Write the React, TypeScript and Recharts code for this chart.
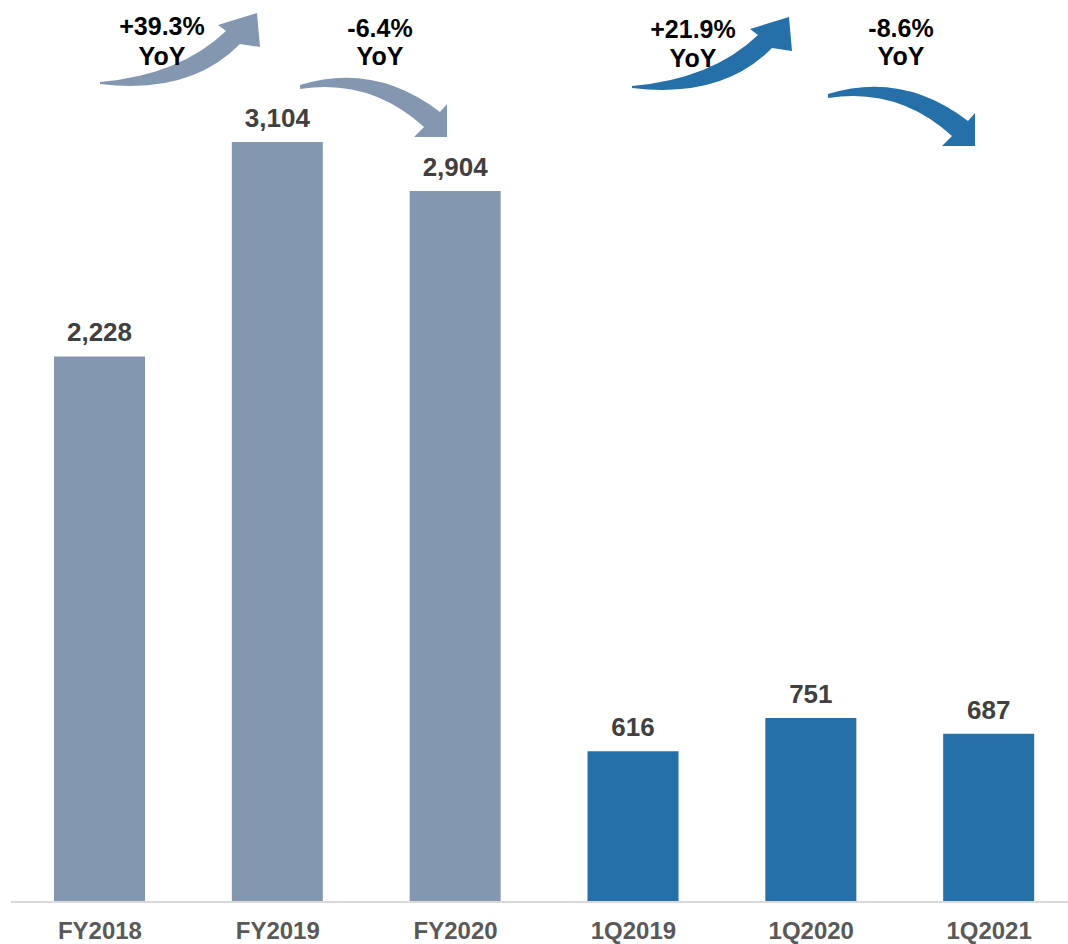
import React from 'react';
import { BarChart, Bar, XAxis, YAxis, Cell, LabelList } from 'recharts';

const categories = ['FY2018', 'FY2019', 'FY2020', '1Q2019', '1Q2020', '1Q2021'];
const revenue = [2228, 3104, 2904, 616, 751, 687];
const periodType = ['annual', 'annual', 'annual', 'quarter', 'quarter', 'quarter'];
const yoyChanges = ['+39.3%', '-6.4%', '+21.9%', '-8.6%'];

const data = categories.map((label, i) => ({ label, value: revenue[i], period: periodType[i] }));

const annualColor = '#8497B0';
const quarterColor = '#2570A9';
const font = '"Liberation Sans", Arial, sans-serif';

// curved arrows in PowerPoint style, drawn once and shifted into place
const upArrow =
  'M100,84 Q190,95 240,44 L260,47 L257,13 L218,25 L226,31 Q180,75 100,82 Z';
const downArrow =
  'M300,85 Q375,62 440,112 L447,104 L447,137 L414,137 L424,127 Q370,78 300,89 Z';

const callouts = [
  { text: yoyChanges[0], path: upArrow, dx: 0, dy: 0, color: annualColor, x: 162, y1: 35, y2: 65 },
  { text: yoyChanges[1], path: downArrow, dx: 0, dy: 0, color: annualColor, x: 380, y1: 37, y2: 65 },
  { text: yoyChanges[2], path: upArrow, dx: 532, dy: 4, color: quarterColor, x: 693, y1: 38, y2: 67 },
  { text: yoyChanges[3], path: downArrow, dx: 528, dy: 9, color: quarterColor, x: 901, y1: 37, y2: 65 },
];

const App: React.FC = () => {
  return (
    <div style={{ position: 'absolute', left: 0, top: 0, width: 1068, height: 944, overflow: 'hidden', background: '#fff' }}>
      <BarChart
        width={1080}
        height={944}
        data={data}
        margin={{ top: 45, right: 2, left: 11, bottom: 0 }}
      >
        <XAxis
          dataKey="label"
          height={42}
          axisLine={{ stroke: '#d9d9d9', strokeWidth: 2 }}
          tickLine={false}
          tickSize={0}
          tickMargin={20}
          tick={{ fill: '#595959', fontSize: 24, fontWeight: 700, fontFamily: font }}
        />
        <YAxis hide domain={[0, 3500]} />
        <Bar dataKey="value" barSize={91} isAnimationActive={false}>
          {data.map((d) => (
            <Cell key={d.label} fill={d.period === 'annual' ? annualColor : quarterColor} />
          ))}
          <LabelList
            dataKey="value"
            position="top"
            offset={15}
            formatter={(v: number) => v.toLocaleString('en-US')}
            style={{ fill: '#404040', fontSize: 26, fontWeight: 700, fontFamily: font }}
          />
        </Bar>
      </BarChart>
      <svg
        width={1068}
        height={944}
        style={{ position: 'absolute', left: 0, top: 0, pointerEvents: 'none' }}
      >
        {callouts.map((c) => (
          <g key={c.text}>
            <path d={c.path} fill={c.color} transform={`translate(${c.dx},${c.dy})`} />
            <text
              x={c.x}
              textAnchor="middle"
              fontFamily={font}
              fontWeight={700}
              fontSize={25}
              fill="#000"
            >
              <tspan x={c.x} y={c.y1}>{c.text}</tspan>
              <tspan x={c.x} y={c.y2}>YoY</tspan>
            </text>
          </g>
        ))}
      </svg>
    </div>
  );
};

export default App;
